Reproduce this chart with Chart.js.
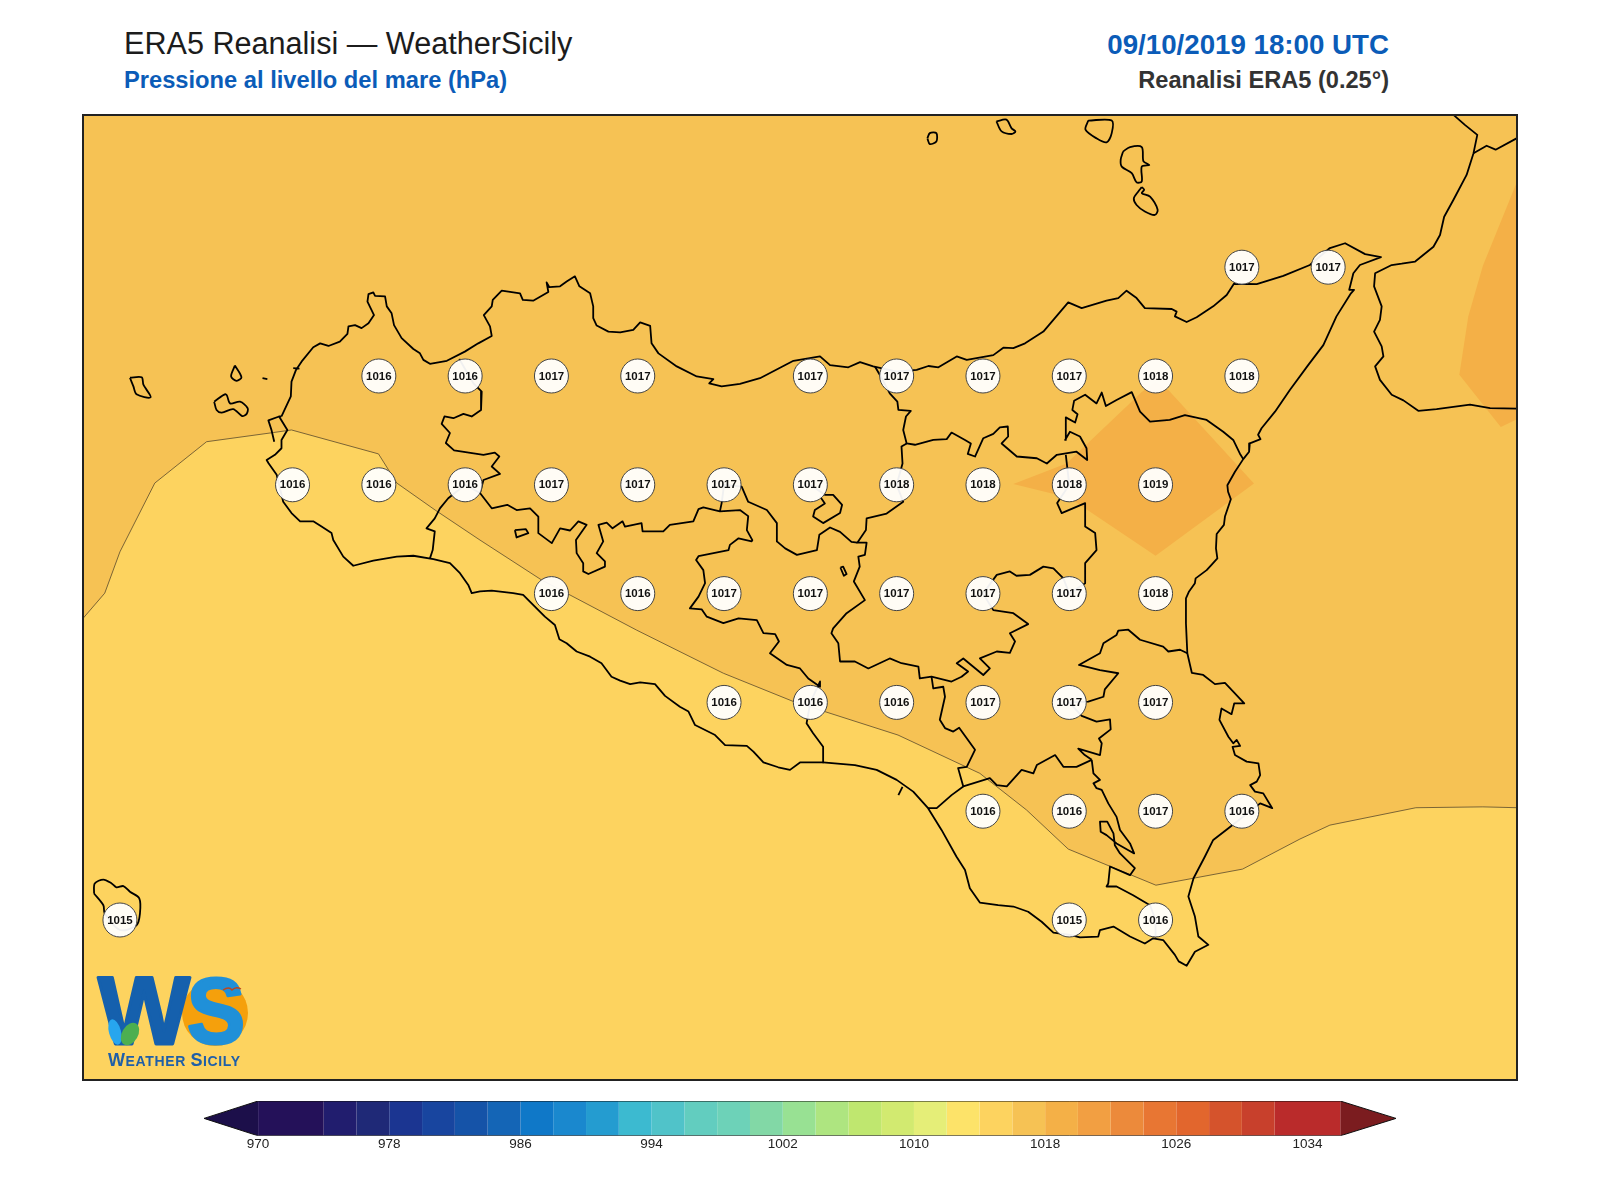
<!DOCTYPE html>
<html lang="it">
<head>
<meta charset="utf-8">
<title>ERA5 Reanalisi - WeatherSicily</title>
<script src="https://cdn.jsdelivr.net/npm/chart.js@4/dist/chart.umd.min.js"></script>
<style>
    html, body { margin: 0; padding: 0; background: #fff; }
    body { position: relative; width: 1600px; height: 1200px; overflow: hidden; font-family: "Liberation Sans", Arial, sans-serif; }
    .txt { position: absolute; white-space: nowrap; line-height: 1; }
    #titolo { left: 124px; top: 28px; font-size: 30.6px; color: #1c1c1c; }
    #sottotitolo { left: 124px; top: 69px; font-size: 23.7px; font-weight: bold; color: #0b5cb8; }
    #data { right: 211px; top: 31px; font-size: 27.7px; font-weight: bold; color: #0b5cb8; }
    #modello { right: 211px; top: 69px; font-size: 23.6px; font-weight: bold; color: #333; }
    #mappa { position: absolute; left: 83px; top: 114px; width: 1434px; height: 966px; overflow: hidden; }
    #mappa canvas { position: absolute; left: 0; top: 0; }
    #cornice { position: absolute; left: 82px; top: 114px; width: 1432px; height: 963px; border: 2px solid #222; pointer-events: none; }
    #barra { position: absolute; left: 204px; top: 1100px; width: 1192px; height: 52px; }
    #logo { position: absolute; left: 90px; top: 972px; }
</style>
</head>
<body>
<div class="txt" id="titolo">ERA5 Reanalisi — WeatherSicily</div>
<div class="txt" id="sottotitolo">Pressione al livello del mare (hPa)</div>
<div class="txt" id="data">09/10/2019 18:00 UTC</div>
<div class="txt" id="modello">Reanalisi ERA5 (0.25°)</div>

<div id="mappa"><canvas id="mapChart" width="1434" height="966"></canvas></div>
<div id="cornice"></div>
<div id="barra"><canvas id="barChart" width="1192" height="52"></canvas></div>

<svg id="logo" width="170" height="110" viewBox="0 0 170 110">
    <circle cx="125" cy="41" r="33" fill="#f5a00c"/>
    <text x="8" y="72" font-family="Liberation Sans" font-weight="bold" font-size="96" fill="#1560ad" stroke="#1560ad" stroke-width="3" stroke-linejoin="round" textLength="92" lengthAdjust="spacingAndGlyphs">W</text>
    <text x="97" y="71" font-family="Liberation Sans" font-weight="bold" font-size="92" fill="#2090d8" stroke="#2090d8" stroke-width="3" stroke-linejoin="round" textLength="58" lengthAdjust="spacingAndGlyphs">S</text>
    <ellipse cx="25" cy="60" rx="6" ry="13" fill="#27a6ee" transform="rotate(-15 25 60)"/>
    <ellipse cx="40" cy="62" rx="8" ry="12" fill="#4caf50" transform="rotate(30 40 62)"/>
    <path d="M133 18 q6 -4 9 0 q4 -4 9 -1" fill="none" stroke="#c0451c" stroke-width="1.4"/>
    <text x="18" y="94" font-family="Liberation Sans" font-weight="bold" font-size="14" fill="#1f5fa8" textLength="132" lengthAdjust="spacing"><tspan font-size="18">W</tspan>EATHER <tspan font-size="18">S</tspan>ICILY</text>
</svg>

<script>
// ============================================
// DATI - griglia ERA5 (lon, lat, hPa)
// ============================================
const mapLonMin = 11.893, mapLonMax = 16.047, mapLatMin = 36.6324, mapLatMax = 38.852;

const stationLon = [15.25, 15.5,
    12.75, 13, 13.25, 13.5, 14, 14.25, 14.5, 14.75, 15, 15.25,
    12.5, 12.75, 13, 13.25, 13.5, 13.75, 14, 14.25, 14.5, 14.75, 15,
    13.25, 13.5, 13.75, 14, 14.25, 14.5, 14.75, 15,
    13.75, 14, 14.25, 14.5, 14.75, 15,
    14.5, 14.75, 15, 15.25,
    12, 14.75, 15];
const stationLat = [38.5, 38.5,
    38.25, 38.25, 38.25, 38.25, 38.25, 38.25, 38.25, 38.25, 38.25, 38.25,
    38, 38, 38, 38, 38, 38, 38, 38, 38, 38, 38,
    37.75, 37.75, 37.75, 37.75, 37.75, 37.75, 37.75, 37.75,
    37.5, 37.5, 37.5, 37.5, 37.5, 37.5,
    37.25, 37.25, 37.25, 37.25,
    37, 37, 37];
const stationHpa = [1017, 1017,
    1016, 1016, 1017, 1017, 1017, 1017, 1017, 1017, 1018, 1018,
    1016, 1016, 1016, 1017, 1017, 1017, 1017, 1018, 1018, 1018, 1019,
    1016, 1016, 1017, 1017, 1017, 1017, 1017, 1018,
    1016, 1016, 1016, 1017, 1017, 1017,
    1016, 1016, 1017, 1016,
    1015, 1015, 1016];

// Isobare riempite
const zoneMid = [[11.8,38.9],[16.1,38.9],[16.1,36.6],[11.8,36.6]];
const zoneLow = [[11.85,37.65],[11.893,37.693],[11.956,37.751],[12,37.846],[12.101,38.004],[12.251,38.099],[12.444,38.120],[12.497,38.126],[12.749,38.071],[12.802,38.004],[12.913,37.942],[13.043,37.873],[13.222,37.781],[13.497,37.666],[13.748,37.567],[13.951,37.502],[14.254,37.425],[14.491,37.337],[14.626,37.253],[14.747,37.163],[15.001,37.080],[15.252,37.117],[15.418,37.186],[15.505,37.218],[15.754,37.258],[15.948,37.260],[16.1,37.257],[16.1,36.6],[11.85,36.6]];
const zoneHighEtna = [[14.588,38.002],[14.742,38.049],[14.960,38.213],[15,38.235],[15.037,38.218],[15.285,38.003],[15,37.837],[14.75,37.970]];
const zoneHighCalabria = [[16.1,38.8],[15.948,38.503],[15.906,38.387],[15.88,38.253],[16,38.133],[16.1,38.17]];

// Coste
const coastSicily = [[12.468,38.157],[12.495,38.203],[12.497,38.237],[12.510,38.264],[12.526,38.283],[12.560,38.316],[12.580,38.325],[12.604,38.319],[12.637,38.329],[12.659,38.347],[12.662,38.364],[12.681,38.367],[12.700,38.360],[12.720,38.371],[12.736,38.390],[12.717,38.421],[12.720,38.438],[12.734,38.442],[12.739,38.434],[12.768,38.433],[12.773,38.410],[12.787,38.394],[12.794,38.367],[12.816,38.337],[12.850,38.312],[12.869,38.302],[12.879,38.287],[12.898,38.278],[12.947,38.285],[12.999,38.306],[13.038,38.325],[13.077,38.342],[13.072,38.364],[13.054,38.390],[13.077,38.410],[13.080,38.425],[13.106,38.446],[13.159,38.440],[13.167,38.425],[13.197,38.423],[13.241,38.443],[13.236,38.465],[13.244,38.454],[13.275,38.456],[13.294,38.467],[13.318,38.479],[13.331,38.456],[13.362,38.440],[13.371,38.410],[13.371,38.383],[13.381,38.366],[13.415,38.352],[13.449,38.350],[13.487,38.356],[13.507,38.373],[13.536,38.365],[13.540,38.325],[13.560,38.302],[13.613,38.272],[13.671,38.249],[13.719,38.243],[13.707,38.233],[13.743,38.226],[13.796,38.232],[13.854,38.245],[13.951,38.285],[14.028,38.295],[14.057,38.275],[14.110,38.270],[14.144,38.282],[14.182,38.272],[14.250,38.260],[14.308,38.264],[14.342,38.273],[14.371,38.270],[14.424,38.295],[14.453,38.287],[14.530,38.298],[14.559,38.315],[14.588,38.314],[14.622,38.325],[14.675,38.352],[14.747,38.419],[14.786,38.406],[14.858,38.423],[14.892,38.429],[14.916,38.446],[14.945,38.429],[14.969,38.406],[15.047,38.404],[15.061,38.398],[15.056,38.387],[15.090,38.374],[15.119,38.385],[15.167,38.410],[15.206,38.436],[15.227,38.462],[15.293,38.461],[15.370,38.480],[15.447,38.505],[15.505,38.544],[15.549,38.555],[15.607,38.530],[15.653,38.523],[15.592,38.505],[15.573,38.486],[15.561,38.448],[15.575,38.448],[15.566,38.440],[15.524,38.387],[15.486,38.321],[15.442,38.275],[15.389,38.218],[15.346,38.168],[15.307,38.130],[15.297,38.115],[15.304,38.105],[15.273,38.095],[15.271,38.076],[15.254,38.059],[15.230,38.030],[15.208,37.999],[15.210,37.984],[15.218,37.967],[15.201,37.927],[15.198,37.908],[15.177,37.887],[15.175,37.854],[15.179,37.831],[15.162,37.816],[15.148,37.804],[15.116,37.785],[15.114,37.774],[15.097,37.755],[15.088,37.739],[15.088,37.682],[15.092,37.613],[15.105,37.568],[15.138,37.563],[15.172,37.542],[15.201,37.545],[15.225,37.525],[15.257,37.498],[15.228,37.498],[15.220,37.473],[15.191,37.486],[15.185,37.460],[15.211,37.421],[15.225,37.406],[15.235,37.414],[15.245,37.400],[15.223,37.398],[15.230,37.379],[15.264,37.364],[15.298,37.360],[15.303,37.333],[15.293,37.318],[15.274,37.310],[15.288,37.295],[15.312,37.291],[15.338,37.257],[15.303,37.268],[15.211,37.211],[15.167,37.184],[15.143,37.146],[15.110,37.096],[15.095,37.054],[15.114,37.008],[15.124,36.962],[15.153,36.943],[15.114,36.927],[15.090,36.895],[15.067,36.905],[15.056,36.920],[15.022,36.954],[14.993,36.958],[14.969,36.946],[14.926,36.962],[14.878,36.985],[14.839,36.977],[14.834,36.962],[14.781,36.960],[14.752,36.966],[14.704,36.971],[14.670,36.996],[14.631,37.019],[14.588,37.031],[14.544,37.034],[14.491,37.040],[14.462,37.073],[14.448,37.115],[14.423,37.146],[14.380,37.207],[14.341,37.257],[14.298,37.295],[14.250,37.322],[14.192,37.345],[14.129,37.356],[14.037,37.362],[13.970,37.362],[13.941,37.345],[13.907,37.351],[13.864,37.362],[13.835,37.387],[13.816,37.400],[13.753,37.402],[13.724,37.425],[13.666,37.448],[13.647,37.479],[13.622,37.490],[13.579,37.515],[13.550,37.542],[13.507,37.546],[13.478,37.542],[13.449,37.550],[13.424,37.559],[13.395,37.590],[13.362,37.605],[13.323,37.617],[13.294,37.636],[13.273,37.645],[13.260,37.678],[13.231,37.697],[13.202,37.720],[13.168,37.747],[13.139,37.751],[13.077,37.757],[13.043,37.755],[13.019,37.751],[13.009,37.770],[12.985,37.797],[12.956,37.820],[12.908,37.829],[12.850,37.837],[12.802,37.835],[12.734,37.826],[12.676,37.814],[12.647,37.835],[12.618,37.873],[12.613,37.889],[12.584,37.904],[12.560,37.916],[12.522,37.916],[12.497,37.935],[12.473,37.961],[12.454,38.023],[12.430,38.050],[12.425,38.057],[12.449,38.069],[12.468,38.084],[12.468,38.103],[12.485,38.126],[12.461,38.157],[12.468,38.157]];
const coastStagnone = [[12.461,38.157],[12.430,38.148],[12.439,38.126],[12.447,38.099]];
const coastCalabria = [[15.863,38.850],[15.896,38.827],[15.932,38.804],[15.921,38.762],[15.901,38.712],[15.863,38.655],[15.836,38.616],[15.824,38.574],[15.805,38.547],[15.752,38.513],[15.713,38.508],[15.684,38.505],[15.636,38.486],[15.633,38.456],[15.655,38.410],[15.650,38.379],[15.633,38.352],[15.655,38.318],[15.660,38.295],[15.636,38.272],[15.650,38.241],[15.684,38.207],[15.718,38.194],[15.761,38.170],[15.814,38.174],[15.911,38.184],[15.969,38.176],[16.055,38.175]];
const coastCalabriaTop = [[15.921,38.762],[15.959,38.779],[15.985,38.770],[16.055,38.800]];

// Isole
const isleMarettimo = [[12.029,38.246],[12.063,38.247],[12.068,38.230],[12.089,38.201],[12.048,38.208],[12.039,38.226],[12.029,38.246]];
const isleLevanzo = [[12.333,38.274],[12.352,38.247],[12.338,38.239],[12.322,38.249],[12.333,38.274]];
const isleFavignana = [[12.273,38.191],[12.307,38.208],[12.319,38.187],[12.348,38.191],[12.370,38.176],[12.367,38.163],[12.354,38.158],[12.328,38.174],[12.295,38.166],[12.280,38.172],[12.273,38.191]];
const isleFormica = [[12.413,38.245],[12.427,38.243]];
const isleColombaia = [[12.502,38.268],[12.520,38.267]];
const isleAlicudi = [[14.339,38.796],[14.346,38.808],[14.365,38.808],[14.365,38.789],[14.346,38.783],[14.339,38.796]];
const isleFilicudi = [[14.539,38.835],[14.568,38.839],[14.583,38.819],[14.594,38.812],[14.583,38.806],[14.554,38.812],[14.539,38.835]];
const isleSalina = [[14.805,38.837],[14.873,38.837],[14.873,38.808],[14.858,38.787],[14.829,38.796],[14.797,38.816],[14.805,38.837]];
const isleLipari = [[14.906,38.766],[14.926,38.776],[14.960,38.776],[14.965,38.743],[14.982,38.735],[14.960,38.731],[14.960,38.697],[14.945,38.695],[14.931,38.716],[14.902,38.731],[14.899,38.747],[14.906,38.766]];
const isleVulcano = [[14.960,38.684],[14.967,38.678],[14.960,38.670],[14.984,38.662],[15.006,38.632],[14.998,38.620],[14.969,38.628],[14.945,38.643],[14.937,38.658],[14.950,38.674],[14.960,38.684]];
const isleUstica = [[11.925,37.061],[11.927,37.084],[11.952,37.093],[11.976,37.084],[11.990,37.075],[12.010,37.078],[12.029,37.065],[12.056,37.050],[12.058,37.015],[12.048,36.988],[12,36.977],[11.956,37.015],[11.952,37.034],[11.925,37.061]];

// Confini provinciali
const provTrapaniPalermo = [[12.983,38.289],[13.024,38.233],[13.048,38.214],[13.046,38.172],[13.019,38.157],[12.995,38.163],[12.966,38.153],[12.940,38.157],[12.932,38.140],[12.956,38.119],[12.944,38.096],[12.968,38.079],[13.053,38.069],[13.086,38.074],[13.099,38.065],[13.077,38.042],[13.101,38.025],[13.053,38.011],[13.043,37.981]];
const provTrapaniAgrigento = [[13.043,37.981],[13,38],[12.951,37.969],[12.927,37.946],[12.912,37.923],[12.888,37.900],[12.912,37.893],[12.906,37.850],[12.898,37.831]];
const provAgrigento = [[13.043,37.981],[13.077,37.946],[13.122,37.954],[13.149,37.942],[13.188,37.946],[13.212,37.927],[13.212,37.889],[13.251,37.866],[13.275,37.900],[13.304,37.895],[13.328,37.916],[13.352,37.908],[13.321,37.873],[13.323,37.843],[13.342,37.820],[13.342,37.801],[13.357,37.795],[13.405,37.812],[13.405,37.824],[13.381,37.843],[13.400,37.870],[13.386,37.908],[13.410,37.913],[13.427,37.900],[13.456,37.916],[13.463,37.904],[13.511,37.912],[13.514,37.893],[13.574,37.893],[13.593,37.908],[13.661,37.916],[13.676,37.944],[13.690,37.948],[13.738,37.939],[13.796,37.942],[13.820,37.928],[13.816,37.896],[13.832,37.873],[13.830,37.870],[13.792,37.877],[13.767,37.862],[13.763,37.850],[13.676,37.836],[13.669,37.827],[13.690,37.804],[13.695,37.774],[13.676,37.743],[13.651,37.716],[13.685,37.714],[13.700,37.697],[13.748,37.682],[13.792,37.693],[13.845,37.689],[13.864,37.659],[13.898,37.657],[13.909,37.640],[13.883,37.613],[13.932,37.586],[13.970,37.578],[13.994,37.555],[14.028,37.536],[14.028,37.548],[14,37.5],[13.989,37.452],[14.008,37.429],[14.037,37.398],[14.037,37.362]];
const provPalermoSud = [[13.75,38],[13.801,37.996],[13.820,37.961],[13.874,37.942],[13.903,37.912],[13.903,37.870],[13.927,37.854],[13.961,37.839],[14.019,37.850],[14.026,37.885],[14.057,37.902],[14.086,37.892],[14.119,37.869],[14.136,37.867]];
const provPalermoStub = [[13.75,38],[13.743,37.958],[13.738,37.939]];
const provLoop = [[14,38],[14.042,37.977],[14.066,37.977],[14.092,37.954],[14.086,37.935],[14.037,37.912],[14.008,37.927],[14.013,37.942],[14.042,37.957],[14.028,37.973]];
const provMessina = [[14.187,38.272],[14.201,38.253],[14.230,38.210],[14.252,38.191],[14.255,38.172],[14.291,38.170],[14.277,38.157],[14.269,38.126],[14.279,38.095],[14.303,38.092],[14.356,38.103],[14.395,38.105],[14.409,38.120],[14.448,38.103],[14.465,38.095],[14.456,38.071],[14.477,38.065],[14.501,38.107],[14.530,38.117],[14.549,38.132],[14.572,38.134],[14.573,38.111],[14.554,38.095],[14.598,38.065],[14.656,38.061],[14.685,38.049],[14.714,38.069],[14.771,38.076],[14.802,38.057],[14.800,38.084],[14.781,38.111],[14.752,38.122],[14.738,38.103],[14.740,38.155],[14.767,38.143],[14.774,38.162],[14.759,38.172],[14.764,38.193],[14.796,38.207],[14.829,38.187],[14.844,38.212],[14.856,38.181],[14.887,38.195],[14.931,38.213],[14.955,38.168],[14.984,38.145],[15.041,38.149],[15.085,38.160],[15.148,38.149],[15.196,38.122],[15.225,38.103],[15.244,38.072],[15.254,38.059]];
const provEnna = [[14.279,38.095],[14.264,38.088],[14.267,38.049],[14.25,38],[14.269,37.961],[14.221,37.934],[14.163,37.923],[14.161,37.896],[14.136,37.867],[14.163,37.867],[14.158,37.839],[14.139,37.835],[14.143,37.812],[14.126,37.778],[14.158,37.735],[14.105,37.705],[14.066,37.670],[14.061,37.659],[14.081,37.636],[14.086,37.594],[14.129,37.594],[14.168,37.578],[14.230,37.601],[14.264,37.590],[14.313,37.582],[14.317,37.555],[14.351,37.559],[14.409,37.548],[14.438,37.559],[14.457,37.571],[14.424,37.590],[14.443,37.601],[14.501,37.563],[14.520,37.578],[14.491,37.601],[14.540,37.617],[14.578,37.614],[14.593,37.640],[14.578,37.659],[14.631,37.680],[14.588,37.705],[14.530,37.712],[14.5,37.75],[14.540,37.793],[14.578,37.801],[14.597,37.791],[14.636,37.793],[14.675,37.812],[14.704,37.808],[14.733,37.785],[14.75,37.75],[14.796,37.774],[14.796,37.820],[14.829,37.850],[14.825,37.889],[14.796,37.904],[14.796,37.958],[14.728,37.935],[14.715,37.958],[14.75,38],[14.740,38.069]];
const provCaltanissetta = [[14.351,37.559],[14.356,37.532],[14.385,37.536],[14.390,37.513],[14.375,37.460],[14.390,37.441],[14.414,37.433],[14.431,37.442],[14.477,37.391],[14.453,37.352],[14.428,37.349],[14.443,37.307],[14.409,37.287],[14.366,37.257],[14.341,37.257]];
const provRagusaNord = [[14.443,37.307],[14.520,37.326],[14.540,37.310],[14.569,37.307],[14.612,37.345],[14.646,37.337],[14.656,37.356],[14.709,37.379],[14.733,37.352],[14.771,37.352],[14.815,37.368]];
const provRagusaEst = [[14.815,37.368],[14.820,37.337],[14.839,37.322],[14.820,37.314],[14.829,37.303],[14.844,37.299],[14.863,37.268],[14.887,37.237],[14.897,37.207],[14.926,37.176],[14.938,37.153],[14.887,37.176],[14.858,37.195],[14.841,37.203],[14.839,37.226],[14.860,37.226],[14.878,37.199],[14.882,37.172],[14.897,37.153],[14.940,37.119],[14.926,37.103],[14.868,37.123],[14.863,37.084],[14.858,37.077],[14.887,37.077],[14.935,37.057],[14.984,37.034],[15,37],[15,36.962]];
const provCatania = [[14.815,37.368],[14.795,37.379],[14.776,37.394],[14.839,37.379],[14.844,37.406],[14.836,37.417],[14.870,37.438],[14.868,37.461],[14.829,37.456],[14.786,37.469],[14.75,37.5],[14.805,37.502],[14.849,37.513],[14.853,37.530],[14.892,37.567],[14.839,37.574],[14.778,37.586],[14.839,37.613],[14.849,37.636],[14.887,37.655],[14.892,37.665],[14.921,37.667],[14.955,37.644],[15.022,37.628],[15.037,37.617],[15.071,37.621],[15.092,37.613]];
const lakeArancio = [[13.144,37.896],[13.176,37.898],[13.183,37.889],[13.149,37.879],[13.144,37.896]];
const lakePozzillo = [[14.087,37.810],[14.095,37.812],[14.105,37.795],[14.097,37.791],[14.087,37.810]];
const capeTick = [[14.255,37.287],[14.267,37.306]];

// Scala colori (hPa)
const barLevels = [970, 974, 976, 978, 980, 982, 984, 986, 988, 990, 992, 994, 996, 998, 1000, 1002, 1004, 1006, 1008, 1010, 1012, 1014, 1016, 1018, 1020, 1022, 1024, 1026, 1028, 1030, 1032];
const barColors = ['#241159', '#211d6e', '#1f2977', '#1b3591', '#18459f', '#1553a8', '#1465b6', '#0f78c8', '#1a88ce', '#249cd0', '#3cbad0', '#50c3c9', '#62cdbf', '#6dd2b8', '#82d8a6', '#98e193', '#aee580', '#bfe76f', '#d2ea70', '#e5ee78', '#fde369', '#fdd35f', '#f6c254', '#f4b047', '#f29f42', '#ec8a3b', '#e87633', '#e2662d', '#d5532c', '#c8402c', '#ba2b2b'];
const barTicks = [970, 978, 986, 994, 1002, 1010, 1018, 1026, 1034];
const barMin = 966.7, barMax = 1039.4, barTop = 1036;

const islandLines = [isleMarettimo, isleLevanzo, isleFavignana, isleAlicudi, isleFilicudi, isleSalina, isleLipari, isleVulcano, isleUstica];
const coastLines = [coastSicily, coastStagnone, coastCalabria, coastCalabriaTop, isleFormica, isleColombaia, provTrapaniPalermo, provTrapaniAgrigento, provAgrigento, provPalermoSud, provPalermoStub, provLoop, provMessina, provEnna, provCaltanissetta, provRagusaNord, provRagusaEst, provCatania, lakeArancio, lakePozzillo, capeTick];

function toPoints(list) {
    return list.map(p => ({ x: p[0], y: p[1] }));
}

function lineDataset(list, tension) {
    return { data: toPoints(list), showLine: true, fill: false, borderColor: '#000', borderWidth: 1.8, borderJoinStyle: 'round', pointRadius: 0, tension: tension };
}

function zoneDataset(list, color, lineWidth) {
    return { data: toPoints(list), showLine: true, fill: 'shape', backgroundColor: color, borderColor: '#5b4a2c', borderWidth: lineWidth || 0, pointRadius: 0, tension: 0 };
}

// Etichette dei valori sopra i cerchi
const stationLabels = {
    id: 'stationLabels',
    afterDatasetsDraw(chart) {
        const ctx = chart.ctx;
        const x = chart.scales.x, y = chart.scales.y;
        ctx.save();
        ctx.font = 'bold 11.5px "Liberation Sans"';
        ctx.fillStyle = '#111';
        ctx.textAlign = 'center';
        ctx.textBaseline = 'middle';
        stationHpa.forEach((v, i) => ctx.fillText(v, x.getPixelForValue(stationLon[i]), y.getPixelForValue(stationLat[i]) + 0.5));
        ctx.restore();
    }
};

const mapDatasets = [{
    data: stationLon.map((lon, i) => ({ x: lon, y: stationLat[i] })),
    showLine: false,
    pointRadius: 17,
    pointBackgroundColor: 'rgba(255,255,255,0.94)',
    pointBorderColor: '#444',
    pointBorderWidth: 1
}];
coastLines.forEach(line => mapDatasets.push(lineDataset(line, 0)));
islandLines.forEach(line => mapDatasets.push(lineDataset(line, 0.3)));
mapDatasets.push(zoneDataset(zoneHighEtna, '#f4b047'));
mapDatasets.push(zoneDataset(zoneHighCalabria, '#f4b047'));
mapDatasets.push(zoneDataset(zoneLow, '#fdd35f', 0.8));
mapDatasets.push(zoneDataset(zoneMid, '#f6c254'));

new Chart(document.getElementById('mapChart'), {
    type: 'scatter',
    data: { datasets: mapDatasets },
    plugins: [stationLabels],
    options: {
        responsive: false,
        animation: false,
        layout: { padding: 0, autoPadding: false },
        plugins: { legend: { display: false }, tooltip: { enabled: false } },
        scales: {
            x: { type: 'linear', display: false, min: mapLonMin, max: mapLonMax },
            y: { type: 'linear', display: false, min: mapLatMin, max: mapLatMax }
        }
    }
});

// Barra colori: una cella per ogni livello, piu le due punte
const barDatasets = [];
barDatasets.push({ data: [{ x: barMin, y: 0.5 }, { x: barLevels[0], y: 1 }, { x: barTop, y: 1 }, { x: barMax, y: 0.5 }, { x: barTop, y: 0 }, { x: barLevels[0], y: 0 }, { x: barMin, y: 0.5 }], showLine: true, fill: false, borderColor: '#111', borderWidth: 1, pointRadius: 0 });
barLevels.forEach((lev, i) => {
    const next = i + 1 < barLevels.length ? barLevels[i + 1] : barTop;
    barDatasets.push({ data: [{ x: lev, y: 0 }, { x: next, y: 0 }, { x: next, y: 1 }, { x: lev, y: 1 }], showLine: true, fill: 'shape', backgroundColor: barColors[i], borderWidth: 0, pointRadius: 0 });
});
barDatasets.push({ data: [{ x: barMin, y: 0.5 }, { x: barLevels[0], y: 1 }, { x: barLevels[0], y: 0 }], showLine: true, fill: 'shape', backgroundColor: '#1c0f4a', borderWidth: 0, pointRadius: 0 });
barDatasets.push({ data: [{ x: barMax, y: 0.5 }, { x: barTop, y: 1 }, { x: barTop, y: 0 }], showLine: true, fill: 'shape', backgroundColor: '#7b1c1f', borderWidth: 0, pointRadius: 0 });

new Chart(document.getElementById('barChart'), {
    type: 'scatter',
    data: { datasets: barDatasets },
    options: {
        responsive: false,
        animation: false,
        layout: { padding: { left: 0, right: 0, top: 1, bottom: 0 }, autoPadding: false },
        plugins: { legend: { display: false }, tooltip: { enabled: false } },
        scales: {
            x: {
                type: 'linear',
                min: barMin,
                max: barMax,
                afterBuildTicks: scale => { scale.ticks = barTicks.map(v => ({ value: v })); },
                grid: { display: false, drawTicks: false },
                border: { display: false },
                ticks: { autoSkip: false, maxRotation: 0, padding: 0, color: '#222', font: { family: 'Liberation Sans', size: 13.5 }, callback: v => String(v) }
            },
            y: { type: 'linear', display: false, min: 0, max: 1 }
        }
    }
});
</script>
</body>
</html>
